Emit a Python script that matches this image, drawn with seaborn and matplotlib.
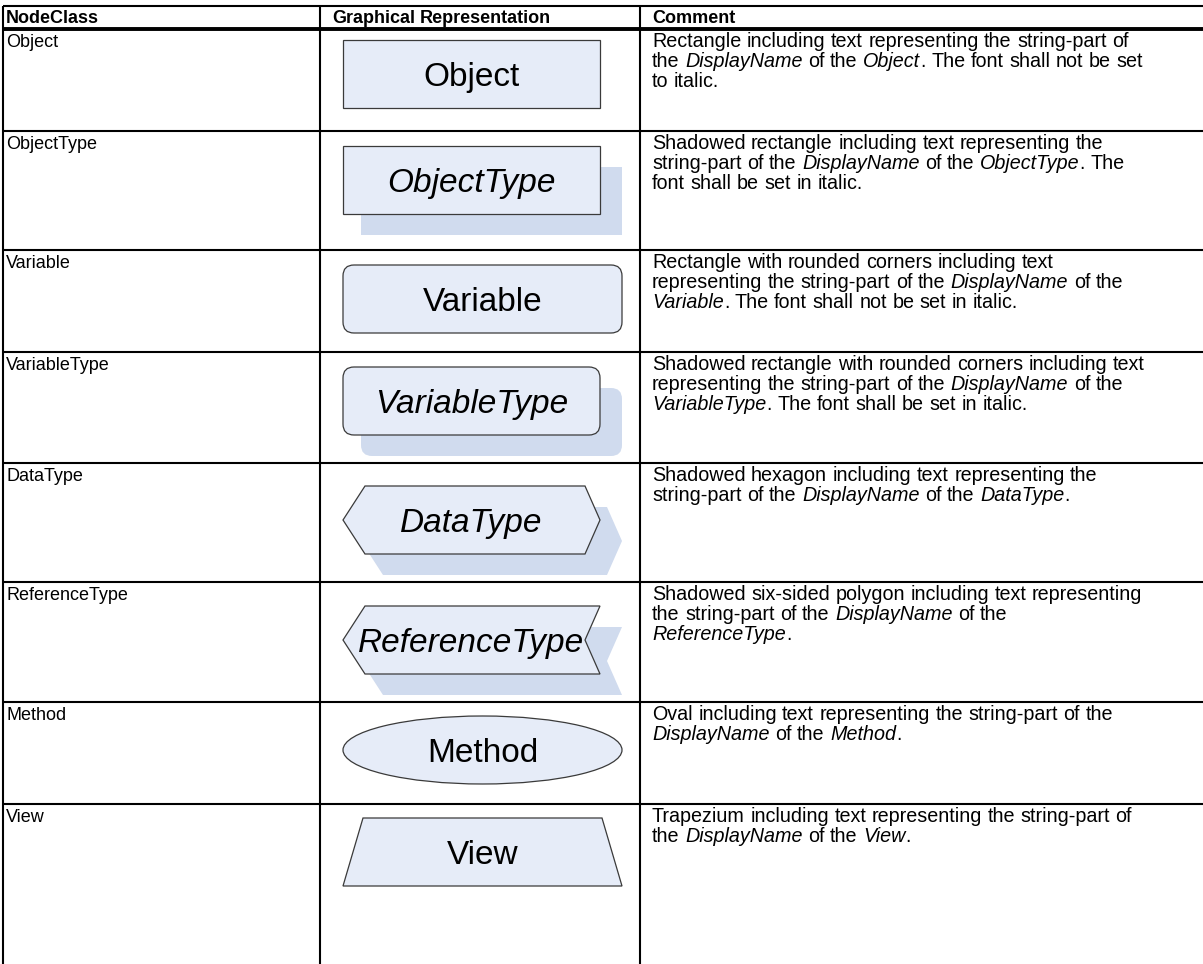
import re
import matplotlib.pyplot as plt
from matplotlib import patches, font_manager
import seaborn as sns

# Table content
headers = ["NodeClass", "Graphical Representation", "Comment"]
node_classes = ["Object", "ObjectType", "Variable", "VariableType",
                "DataType", "ReferenceType", "Method", "View"]
shape_kinds = ["rect", "rect", "round", "round",
               "hexagon", "reftype", "oval", "trapezium"]
shadowed = [False, True, False, True, True, True, False, False]
italic_label = [False, True, False, True, True, True, False, False]

# Comment lines, *...* marks italic runs
comments = [
    ["Rectangle including text representing the string-part of",
     "the *DisplayName* of the *Object*. The font shall not be set",
     "to italic."],
    ["Shadowed rectangle including text representing the",
     "string-part of the *DisplayName* of the *ObjectType*. The",
     "font shall be set in italic."],
    ["Rectangle with rounded corners including text",
     "representing the string-part of the *DisplayName* of the",
     "*Variable*. The font shall not be set in italic."],
    ["Shadowed rectangle with rounded corners including text",
     "representing the string-part of the *DisplayName* of the",
     "*VariableType*. The font shall be set in italic."],
    ["Shadowed hexagon including text representing the",
     "string-part of the *DisplayName* of the *DataType*."],
    ["Shadowed six-sided polygon including text representing",
     "the string-part of the *DisplayName* of the",
     "*ReferenceType*."],
    ["Oval including text representing the string-part of the",
     "*DisplayName* of the *Method*."],
    ["Trapezium including text representing the string-part of",
     "the *DisplayName* of the *View*."],
]

# Layout (pixels)
W, H = 1203, 964
row_tops = [29, 131, 250, 352, 463, 582, 702, 804]
shape_tops = [40, 146, 265, 367, 486, 606, 716, 818]
col_x = [3, 320, 640]
FONT = "Liberation Sans"
FS = 14.2
LABEL_FS = 24
LINE_H = 20
FILL = "#E6ECF8"
SHADOW = "#D0DBEE"
EDGE = "#3A3A3A"

sns.set_theme(style="white")
plt.rcParams["font.family"] = [FONT, "DejaVu Sans"]
installed = {f.name for f in font_manager.fontManager.ttflist}
if "Liberation Sans Narrow" in installed:
    NARROW, NARROW_FS = "Liberation Sans Narrow", FS
else:
    NARROW, NARROW_FS = FONT, 13

fig = plt.figure(figsize=(W / 100, H / 100), dpi=100)
ax = fig.add_axes([0, 0, 1, 1])
ax.set_xlim(0, W)
ax.set_ylim(H, 0)
ax.axis("off")
renderer = fig.canvas.get_renderer()


def text_width(s, style="normal", weight="normal", family=FONT, size=FS):
    t = ax.text(0, 0, s, fontsize=size, style=style, weight=weight, family=family)
    w = t.get_window_extent(renderer).width
    t.remove()
    return w


def draw_rich(x, y, line, weight="normal", family=FONT, size=FS):
    space_w = (text_width("a a", family=family, size=size)
               - text_width("aa", family=family, size=size))
    parts = line.split("*")
    for i, seg in enumerate(parts):
        style = "italic" if i % 2 else "normal"
        for piece in re.split(r"( )", seg):
            if piece == "":
                continue
            if piece == " ":
                x += space_w
                continue
            ax.text(x, y, piece, fontsize=size, style=style, weight=weight,
                    family=family, ha="left", va="baseline", color="black")
            x += text_width(piece, style, weight, family, size)


def shape_patch(kind, x0, y0, x1, y1, **kw):
    w, h = x1 - x0, y1 - y0
    ym = (y0 + y1) / 2
    if kind == "rect":
        return patches.Rectangle((x0, y0), w, h, **kw)
    if kind == "round":
        return patches.FancyBboxPatch((x0, y0), w, h,
                                      boxstyle="round,pad=0,rounding_size=11", **kw)
    if kind == "oval":
        return patches.Ellipse(((x0 + x1) / 2, ym), w, h, **kw)
    if kind == "hexagon":
        pts = [(x0, ym), (x0 + 22, y0), (x1 - 15, y0), (x1, ym),
               (x1 - 15, y1), (x0 + 22, y1)]
    elif kind == "reftype":
        pts = [(x0, ym), (x0 + 22, y0), (x1, y0), (x1 - 15, ym),
               (x1, y1), (x0 + 22, y1)]
    else:  # trapezium
        pts = [(x0 + 20, y0), (x1 - 20, y0), (x1, y1), (x0, y1)]
    return patches.Polygon(pts, closed=True, **kw)


# Table grid
ax.plot([col_x[0], W], [6, 6], color="black", lw=1.5, solid_capstyle="butt")
ax.plot([col_x[0], W], [row_tops[0], row_tops[0]], color="black", lw=2.8,
        solid_capstyle="butt")
for top in row_tops[1:]:
    ax.plot([col_x[0], W], [top, top], color="black", lw=1.5, solid_capstyle="butt")
for cx in col_x:
    ax.plot([cx, cx], [6, H], color="black", lw=1.5, solid_capstyle="butt")

# Header
for cx, head in zip(col_x, headers):
    draw_rich(cx + (3 if cx == col_x[0] else 12), 23, head,
              weight="bold", family=NARROW, size=NARROW_FS)

# Rows
for i, name in enumerate(node_classes):
    top = row_tops[i]
    draw_rich(col_x[0] + 3, top + 18, name, family=NARROW, size=NARROW_FS)
    for k, line in enumerate(comments[i]):
        draw_rich(col_x[2] + 12, top + 18 + k * LINE_H, line)

    kind = shape_kinds[i]
    y0 = shape_tops[i]
    y1 = y0 + 68
    x0 = 343
    x1 = 600 if (shadowed[i] or name == "Object") else 622
    if shadowed[i]:
        ax.add_patch(shape_patch(kind, x0 + 18, y0 + 21, x1 + 22, y1 + 21,
                                 facecolor=SHADOW, edgecolor="none", zorder=2))
    ax.add_patch(shape_patch(kind, x0, y0, x1, y1, facecolor=FILL,
                             edgecolor=EDGE, lw=0.9, zorder=3))
    ax.text((x0 + x1) / 2, (y0 + y1) / 2 + 12, name, fontsize=LABEL_FS,
            style="italic" if italic_label[i] else "normal",
            ha="center", va="baseline", color="black", zorder=4)

fig.savefig("out.png", dpi=100, facecolor="white")
